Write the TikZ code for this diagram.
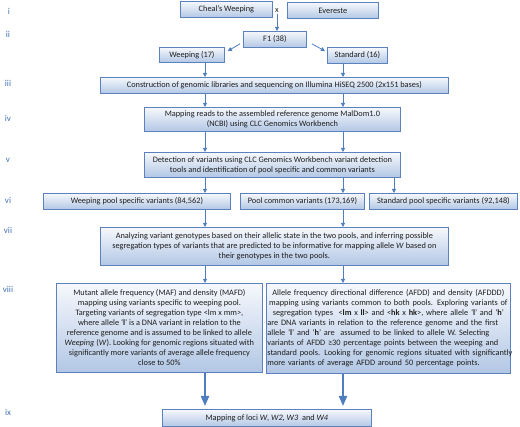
\documentclass[tikz,border=0pt]{standalone}
\usepackage{fontspec}
\setmainfont{Carlito}
\usetikzlibrary{arrows.meta}
\definecolor{bordc}{HTML}{5B82BE}
\definecolor{topc}{HTML}{F6F8FC}
\definecolor{botc}{HTML}{B2C7E5}
\definecolor{numc}{HTML}{4472B4}
\definecolor{txtc}{HTML}{1E1E1E}
\definecolor{arrc}{HTML}{4F7EC0}
\newcommand{\myCline}[1]{\makebox[\linewidth][c]{#1}}
\newcommand{\myLline}[1]{\makebox[\linewidth][l]{#1}}
\tikzset{
  box/.style={draw=bordc, line width=0.8pt, top color=topc, bottom color=botc,
    inner sep=0pt, font=\fontsize{8.3}{10}\selectfont, text=txtc, align=center, anchor=north west},
  num/.style={font=\fontsize{9}{10}\selectfont, text=numc, anchor=center},
  arr/.style={draw=arrc, line width=0.8pt, -{Triangle[length=4pt,width=4pt]}},
  bigarr/.style={draw=arrc, line width=2pt, -{Triangle[length=10pt,width=8pt]}},
}
\begin{document}
\begin{tikzpicture}[x=1pt,y=-1pt]
\useasboundingbox (0,0) rectangle (520,427);
% column coordinates
\coordinate (cl) at (205,0);
\coordinate (cr) at (343,0);
\coordinate (cs) at (394,0);
% roman numerals
\node[num] (n1) at (9,11) {i};
\node[num] (n2) at (8,34) {ii};
\node[num] (n3) at (8,83) {iii};
\node[num] (n4) at (8,118) {iv};
\node[num] (n5) at (8,160) {v};
\node[num] (n6) at (8,200) {vi};
\node[num] (n7) at (8,230) {vii};
\node[num] (n8) at (8,289) {viii};
\node[num] (n9) at (8,412) {ix};
% boxes
\node[box, minimum width=92pt, minimum height=16pt] (cw) at (180,1) {Cheal's Weeping};
\node[box, minimum width=91pt, minimum height=16pt] (ev) at (287,2) {Evereste};
\node[font=\fontsize{8.3}{10}\selectfont, text=txtc, inner sep=1pt] (xl) at (277,11) {x};
\node[box, minimum width=63pt, minimum height=16pt] (f1) at (243,31) {F1 (38)};
\node[box, minimum width=65pt, minimum height=15pt] (wp) at (159,47) {Weeping (17)};
\node[box, minimum width=60pt, minimum height=16pt] (st) at (327,47) {Standard (16)};
\node[box, minimum width=348pt, minimum height=16pt] (cons) at (100,77)
  {Construction of genomic libraries and sequencing on Illumina HiSEQ 2500 (2x151 bases)};
\node[box, minimum width=256pt, minimum height=24pt] (map) at (144,107)
  {Mapping reads to the assembled reference genome MalDom1.0\\(NCBI) using CLC Genomics Workbench};
\node[box, minimum width=256pt, minimum height=25pt] (det) at (144,152)
  {Detection of variants using CLC Genomics Workbench variant detection\\tools and identification of pool specific and common variants};
\node[box, minimum width=187pt, minimum height=16pt] (wpv) at (43,193) {Weeping pool specific variants (84,562)};
\node[box, minimum width=124pt, minimum height=16pt] (pcv) at (240,193) {Pool common variants (173,169)};
\node[box, minimum width=148pt, minimum height=16pt] (spv) at (369,193) {Standard pool specific variants (92,148)};
\node[box, minimum width=348pt, minimum height=38pt] (ana) at (100,227)
  {Analyzing variant genotypes based on their allelic state in the two pools, and inferring possible\\
   segregation types of variants that are predicted to be informative for mapping allele \textit{W} based on\\
   their genotypes in the two pools.};
\node[box, minimum width=206pt, minimum height=89pt] (mafd) at (56,283)
  {Mutant allele frequency (MAF) and density (MAFD)\\
   mapping using variants specific to weeping pool.\\
   Targeting variants of segregation type <lm x mm>,\\
   where allele `\textbf{l}' is a DNA variant in relation to the\\
   reference genome and is assumed to be linked to allele\\
   \textit{Weeping} (\textit{W}). Looking for genomic regions situated with\\
   significantly more variants of average allele frequency\\
   close to 50\%};
\node[box, minimum width=244pt, minimum height=90pt, text width=242pt, align=left] (afdd) at (266,283)
  {\myCline{Allele frequency directional difference (AFDD) and density (AFDDD)}\\
   \myCline{mapping using variants common to both pools. Exploring variants of}\\
   \myCline{segregation types\ \ <\textbf{lm} x \textbf{ll}> and <\textbf{hk} x \textbf{hk}>, where allele `\textbf{l}' and `\textbf{h}'}\\
   \myLline{are DNA variants in relation to the reference genome and the first}\\
   \myLline{allele `\textbf{l}' and `\textbf{h}' are\ \ assumed to be linked to allele W. Selecting}\\
   \myLline{variants of AFDD ≥30 percentage points between the weeping and}\\
   \myLline{standard pools. Looking for genomic regions situated with significantly}\\
   \myLline{more variants of average AFDD around 50 percentage points.}};
\node[box, minimum width=209pt, minimum height=17pt] (loci) at (162,409)
  {Mapping of loci \textit{W}, \textit{W2}, \textit{W3}\ \ and \textit{W4}};
% connectors
\draw[arr] (xl.south) -- (xl.south |- f1.north);
\draw[arr] ([xshift=-3pt,yshift=4pt]f1.south west) -- ([xshift=3pt,yshift=-4pt]wp.north east);
\draw[arr] ([xshift=5pt,yshift=4pt]f1.south east) -- ([xshift=-2pt,yshift=-4pt]st.north west);
\draw[arr] (wp.south -| cl) -- (cons.north -| cl);
\draw[arr] (st.south -| cr) -- (cons.north -| cr);
\draw[arr] (cons.south -| cl) -- (map.north -| cl);
\draw[arr] (cons.south -| cr) -- (map.north -| cr);
\draw[arr] (map.south -| cl) -- (det.north -| cl);
\draw[arr] (map.south -| cr) -- (det.north -| cr);
\draw[arr] (det.south -| cl) -- (wpv.north -| cl);
\draw[arr] (det.south -| cr) -- (pcv.north -| cr);
\draw[arr] (det.south -| cs) -- (spv.north -| cs);
\draw[arr] (wpv.south -| cl) -- (ana.north -| cl);
\draw[arr] (pcv.south -| cr) -- (ana.north -| cr);
\draw[arr] (ana.south -| cl) -- (mafd.north -| cl);
\draw[arr] (ana.south -| cr) -- (afdd.north -| cr);
\draw[bigarr] (mafd.south -| cl) -- ([yshift=3pt]loci.north -| cl);
\draw[bigarr] (afdd.south -| cr) -- ([yshift=3pt]loci.north -| cr);
\end{tikzpicture}
\end{document}
